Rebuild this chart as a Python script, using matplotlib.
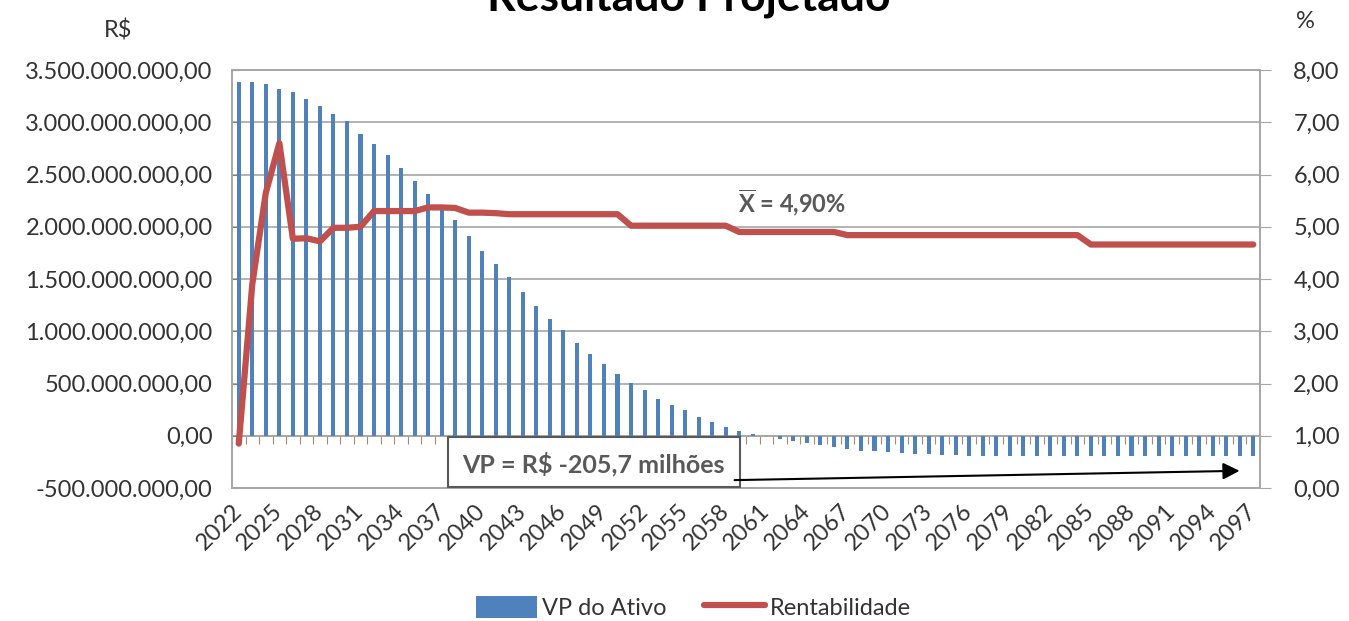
import numpy as np
import matplotlib
matplotlib.use("Agg")
import matplotlib.pyplot as plt
from matplotlib.patches import Rectangle

plt.rcParams["font.family"] = ["Lato", "DejaVu Sans"]
plt.rcParams["mathtext.fontset"] = "custom"
plt.rcParams["mathtext.rm"] = "Lato"
plt.rcParams["mathtext.bf"] = "Lato:bold"

# ---- data ----
years = list(range(2022, 2098))
vp_milhoes = [
    3385, 3385, 3365, 3320, 3290, 3220, 3155, 3080, 3010, 2890,
    2795, 2685, 2565, 2435, 2310, 2200, 2060, 1915, 1770, 1645,
    1515, 1380, 1240, 1115, 1013, 890, 780, 683, 593, 507,
    436, 356, 291, 243, 180, 130, 82, 50, 16, 2,
    -32, -48, -72, -90, -112, -128, -144, -150, -160, -166,
    -178, -178, -182, -188, -190, -191, -192, -192, -193, -194,
    -195, -195, -196, -196, -196, -197, -197, -197, -197, -197,
    -197, -197, -197, -197, -197, -197,
]
rentab = (
    [0.85, 3.9, 5.65, 6.6, 4.77, 4.78, 4.72, 4.98, 4.98, 5.0,
     5.3, 5.3, 5.3, 5.3, 5.37, 5.37, 5.36, 5.27, 5.27, 5.26]
    + [5.24] * 9 + [5.02] * 8 + [4.90] * 8 + [4.84] * 18 + [4.66] * 13
)
left_ticks = [-5e8, 0, 5e8, 1e9, 1.5e9, 2e9, 2.5e9, 3e9, 3.5e9]
right_ticks = [0, 1, 2, 3, 4, 5, 6, 7, 8]

BLUE = "#4F81BD"
RED = "#C0504D"
GRID = "#A6A6A6"
TXT = "#333333"
FS = 17

def br_money(v):
    s = f"{v:,.2f}"
    return s.replace(",", "X").replace(".", ",").replace("X", ".")

x = np.arange(len(years))
vp = np.array(vp_milhoes) * 1e6

fig = plt.figure(figsize=(13.49, 6.21), dpi=100)
ax = fig.add_axes([232 / 1349, 1 - 488 / 621, 1028 / 1349, 418 / 621])

ax.bar(x, vp, width=0.3, color=BLUE, zorder=2, label="VP do Ativo")
ax.set_xlim(-0.5, len(years) - 0.5)
ax.set_ylim(-5e8, 3.5e9)
ax.set_yticks(left_ticks)
ax.set_yticklabels([br_money(v) for v in left_ticks])
ax.grid(axis="y", color=GRID, lw=1.2, zorder=0)
ax.tick_params(axis="y", direction="in", length=5, color="#808080",
               labelsize=FS, labelcolor=TXT, pad=14)
for sp in ax.spines.values():
    sp.set_color(GRID)
    sp.set_linewidth(1.2)

lab_idx = x[::3]
ax.set_xticks(lab_idx)
ax.set_xticklabels([str(years[i]) for i in lab_idx], rotation=45,
                   ha="right", va="center", rotation_mode="anchor")
ax.tick_params(axis="x", length=0, labelsize=FS, labelcolor=TXT, pad=14)

# category axis drawn at zero, ticks between categories
zero_frac = 5e8 / 4e9
sec = ax.secondary_xaxis(zero_frac)
sec.set_xticks(np.arange(-0.5, len(years), 1.0))
sec.tick_params(axis="x", direction="out", length=6, color="#A08C78",
                labelbottom=False, labeltop=False)
sec.spines["bottom"].set_color(GRID)
sec.spines["bottom"].set_linewidth(1.2)
sec.spines["top"].set_visible(False)

ax2 = ax.twinx()
ax2.plot(x, rentab, color=RED, lw=4.5, solid_joinstyle="round",
         solid_capstyle="round", zorder=3, label="Rentabilidade")
ax2.set_ylim(0, 8)
ax2.set_yticks(right_ticks)
ax2.set_yticklabels([f"{v:.2f}".replace(".", ",") for v in right_ticks])
ax2.tick_params(axis="y", direction="out", length=8, color=GRID,
                labelsize=FS, labelcolor=TXT, pad=16)
for sp in ax2.spines.values():
    sp.set_color(GRID)
    sp.set_linewidth(1.2)

# annotations
ax2.text(36.9, 5.47, r"$\mathbf{\overline{X}}$ = 4,90%", fontsize=17,
         fontweight="bold", color="#595959", ha="left", va="center")
ax2.add_patch(Rectangle((15.45, 0.02), 21.6, 0.95, facecolor="white",
                        edgecolor="#595959", lw=1.5, zorder=4))
ax2.text(26.25, 0.45, "VP = R$ -205,7 milhões", fontsize=18, fontweight="bold",
         color="#595959", ha="center", va="center", zorder=5)
ax2.annotate("", xy=(74.2, 0.33), xytext=(36.45, 0.15),
             arrowprops=dict(arrowstyle="-|>", color="black", lw=1.5,
                             mutation_scale=25), zorder=5)

fig.text(118 / 1349, 1 - 31 / 621, "R$", fontsize=FS, color=TXT,
         ha="center", va="center")
fig.text(1305 / 1349, 1 - 22 / 621, "%", fontsize=FS, color=TXT,
         ha="center", va="center")
fig.text(689 / 1349, 1 - 10 / 621, "Resultado Projetado", fontsize=32,
         fontweight="bold", color="black", ha="center", va="baseline")

h1, l1 = ax.get_legend_handles_labels()
h2, l2 = ax2.get_legend_handles_labels()
fig.legend(h1 + h2, l1 + l2, loc="center", bbox_to_anchor=(0.514, 0.022),
           ncol=2, frameon=False, fontsize=FS, handlelength=2.6,
           handleheight=1.1, columnspacing=1.6, handletextpad=0.2,
           labelcolor=TXT)

fig.savefig("out.png", dpi=100, facecolor="white")
